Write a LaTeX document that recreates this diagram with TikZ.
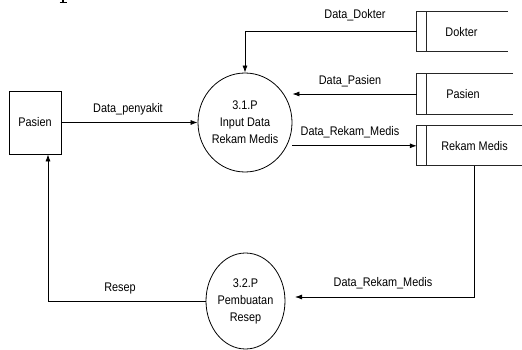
\documentclass[tikz,border=0pt]{standalone}
\usepackage{fontspec}
\setmainfont{Liberation Sans}[FakeStretch=0.87]
\usetikzlibrary{arrows.meta,shapes.geometric}

\tikzset{
  txt/.style={font=\fontsize{12.5}{17}\selectfont, inner sep=0pt, align=center},
  entity/.style={txt, draw, line width=0.8pt, minimum width=52pt, minimum height=63pt},
  proc/.style={txt, draw, ellipse, line width=0.8pt, inner sep=0pt},
  store/.style={txt, inner sep=0pt, minimum height=40pt},
  storeline/.style={line width=0.8pt, draw=black!85},
  flow/.style={line width=0.8pt, -{Latex[length=7pt,width=5pt]}},
  flowlbl/.style={txt},
}

\begin{document}
\begin{tikzpicture}[x=1pt, y=-1pt]
\useasboundingbox (0,0) rectangle (522,350);

% foot of a letter from the line above, cut at the top edge
\draw[line width=1.1pt] (63,0) -- (63,2);
\draw[line width=0.9pt] (59.5,2.2) -- (66.5,2.2);

% external entity
\node[entity] (pas) at (35,122.5) {Pasien};

% processes
\node[proc, minimum width=78pt, minimum height=99pt] (p1) at (245,122.5) {3.1.P\\Input Data\\Rekam Medis};
\node[proc, minimum width=79pt, minimum height=96pt] (p2) at (245.5,301) {3.2.P\\Pembuatan\\Resep};

% data stores (open on the right)
\node[store, minimum width=91pt, label={[txt, xshift=-1pt]center:Dokter}] (dok) at (462.5,31.7) {};
\node[store, minimum width=96pt, label={[txt, xshift=-2pt]center:Pasien}] (pst) at (465,94) {};
\node[store, minimum width=105pt, minimum height=39.5pt, label={[txt, xshift=5pt]center:Rekam Medis}] (rm) at (469.5,145.8) {};

\foreach \s in {dok,pst,rm}{
  \draw[storeline] (\s.north east) -- (\s.north west) -- (\s.south west) -- (\s.south east);
  \draw[storeline] ([xshift=10pt]\s.north west) -- ([xshift=10pt]\s.south west);
}

% flows
\draw[flow] (pas.east) -- (p1.west);
\draw[flow] (dok.west) -| (p1.north);
\draw[flow] (pst.west) -- (pst.west -| p1.east);
\draw[flow] (p1.east |- rm.west) -- (rm.west);
\coordinate (rmin) at (295,297);
\draw[flow] ([xshift=4.5pt]rm.south) |- (rmin);
\draw[flow] (p2.west) -| ([xshift=13pt]pas.south);

% flow labels
\node[flowlbl] (l1) at (128,109) {Data\_penyakit};
\node[flowlbl] (l2) at (355,15.5) {Data\_Dokter};
\node[flowlbl] (l3) at (350,81) {Data\_Pasien};
\node[flowlbl] (l4) at (350,132) {Data\_Rekam\_Medis};
\node[flowlbl] (l5) at (383,283) {Data\_Rekam\_Medis};
\node[flowlbl] (l6) at (120,288) {Resep};
\end{tikzpicture}
\end{document}
